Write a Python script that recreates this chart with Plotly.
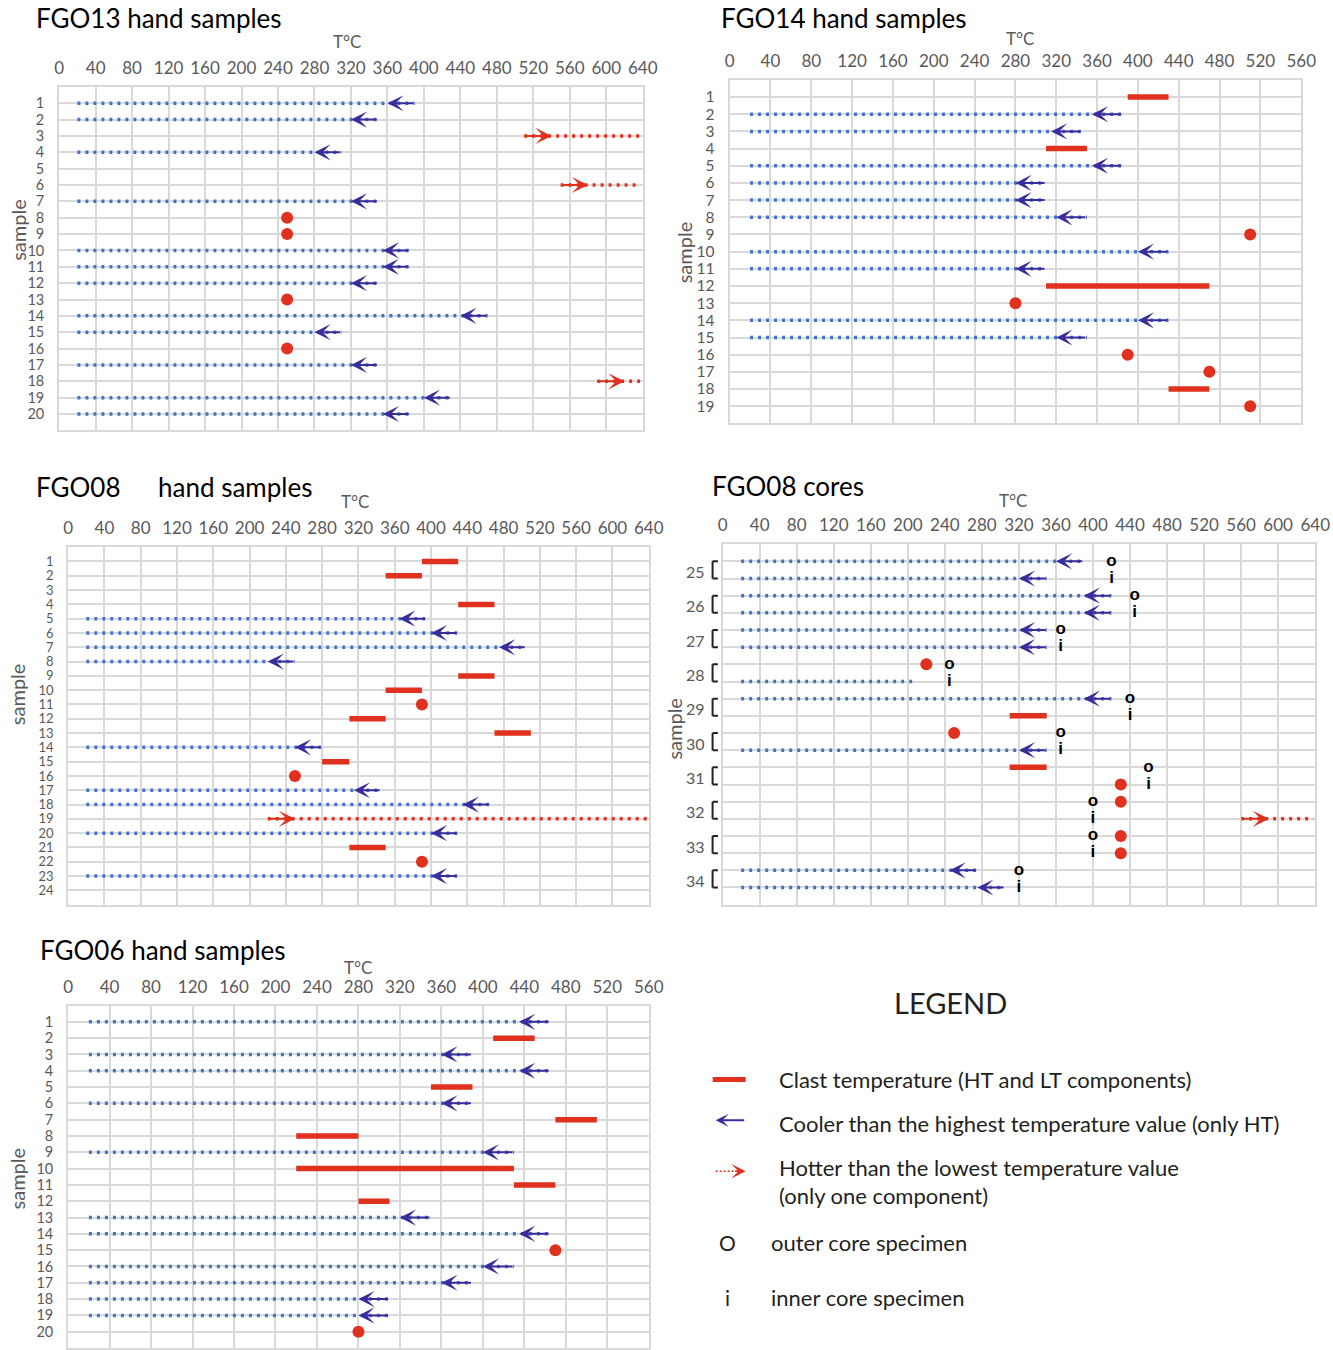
import plotly.graph_objects as go

W, H = 1333, 1350
BLUE = "#4472C4"
PURPLE = "#3B2C9B"
RED = "#E0301E"
GRID = "#D9D9D9"
TICK = "#595959"
FONT = "Lato"

COOL_START = 20      # dotted "cooler than" lines start at ~20 degC
ARROW_LEN = 30       # arrow length in degC

# ---------------- FGO13 hand samples ----------------
f13_rows = list(range(1, 21))
f13_cool_rows = [1, 2, 4, 7, 10, 11, 12, 14, 15, 17, 19, 20]
f13_cool_max = [390, 350, 310, 350, 385, 385, 350, 470, 310, 350, 430, 385]
f13_hot_rows = [3, 6, 18]
f13_hot_min = [510, 550, 590]
f13_hot_max = [640, 635, 637]
f13_dot_rows = [8, 9, 13, 16]
f13_dot_val = [250, 250, 250, 250]

# ---------------- FGO14 hand samples ----------------
f14_rows = list(range(1, 20))
f14_cool_rows = [2, 3, 5, 6, 7, 8, 10, 11, 14, 15]
f14_cool_max = [385, 345, 385, 310, 310, 350, 430, 310, 430, 350]
f14_bar_rows = [1, 4, 12, 18]
f14_bar_lo = [390, 310, 310, 430]
f14_bar_hi = [430, 350, 470, 470]
f14_dot_rows = [9, 13, 16, 17, 19]
f14_dot_val = [510, 280, 390, 470, 510]

# ---------------- FGO08 hand samples ----------------
f08_rows = list(range(1, 25))
f08_cool_rows = [5, 6, 7, 8, 14, 17, 18, 20, 23]
f08_cool_max = [395, 430, 505, 250, 280, 345, 465, 430, 430]
f08_bar_rows = [1, 2, 4, 9, 10, 12, 13, 15, 21]
f08_bar_lo = [390, 350, 430, 430, 350, 310, 470, 280, 310]
f08_bar_hi = [430, 390, 470, 470, 390, 350, 510, 310, 350]
f08_dot_rows = [11, 16, 22]
f08_dot_val = [390, 250, 390]
f08_hot_rows = [19]
f08_hot_min = [220]
f08_hot_max = [640]

# ---------------- FGO08 cores (o = outer, i = inner sub-rows) ----------------
core_samples = ["25", "26", "27", "28", "29", "30", "31", "32", "33", "34"]
core_rows = list(range(1, 21))
core_cool_rows = [1, 2, 3, 4, 5, 6, 9, 12, 19, 20]
core_cool_max = [390, 350, 420, 420, 350, 350, 420, 350, 275, 305]
core_plain_rows = [8]
core_plain_max = [210]
core_bar_rows = [10, 13]
core_bar_lo = [310, 310]
core_bar_hi = [350, 350]
core_dot_rows = [7, 11, 14, 15, 17, 18]
core_dot_val = [220, 250, 430, 430, 430, 430]
core_hot_rows = [16]
core_hot_min = [560]
core_hot_max = [638]
core_o_rows = [1, 3, 5, 7, 9, 11, 13, 15, 17, 19]
core_i_rows = [2, 4, 6, 8, 10, 12, 14, 16, 18, 20]
core_label_x = [420, 445, 365, 245, 440, 365, 460, 400, 400, 320]

# ---------------- FGO06 hand samples ----------------
f06_rows = list(range(1, 21))
f06_cool_rows = [1, 3, 4, 6, 9, 13, 14, 16, 17, 18, 19]
f06_cool_max = [465, 390, 465, 390, 430, 350, 465, 430, 390, 310, 310]
f06_bar_rows = [2, 5, 7, 8, 10, 11, 12]
f06_bar_lo = [410, 350, 470, 220, 220, 430, 280]
f06_bar_hi = [450, 390, 510, 280, 430, 470, 310]
f06_dot_rows = [15, 20]
f06_dot_val = [470, 280]

fig = go.Figure()

# effective horizontal rendering width / offset observed in the viewer
X_OFF, X_W = 3.8, 1314.0


def px_x(p):
    return (p - X_OFF) / X_W


def px_y(p):
    return 1 - p / H


def names(n):
    s = "" if n == 1 else str(n)
    return "x" + s, "y" + s, "xaxis" + s, "yaxis" + s


def segs(rows, lo, hi):
    xs, ys = [], []
    for r, a, b in zip(rows, lo, hi):
        xs += [a, b, None]
        ys += [r, r, None]
    return xs, ys


def add_panel(n, cool_rows=(), cool_max=(), bar_rows=(), bar_lo=(), bar_hi=(),
              dot_rows=(), dot_val=(), hot_rows=(), hot_lo=(), hot_hi=(),
              plain_rows=(), plain_max=()):
    xa, ya, _, _ = names(n)
    rows = list(cool_rows) + list(plain_rows)
    mx = list(cool_max) + list(plain_max)
    if rows:
        xs, ys = segs(rows, [COOL_START] * len(rows), mx)
        fig.add_trace(go.Scatter(x=xs, y=ys, xaxis=xa, yaxis=ya, mode="lines",
                                 line=dict(color=BLUE, width=3.5, dash="3px,5px"),
                                 hoverinfo="skip", showlegend=False))
    if hot_rows:
        xs, ys = segs(hot_rows, hot_lo, hot_hi)
        fig.add_trace(go.Scatter(x=xs, y=ys, xaxis=xa, yaxis=ya, mode="lines",
                                 line=dict(color=RED, width=3.5, dash="3px,5px"),
                                 hoverinfo="skip", showlegend=False))
        for r, a in zip(hot_rows, hot_lo):
            fig.add_annotation(x=a + ARROW_LEN, y=r, ax=a, ay=r, xref=xa, yref=ya,
                               axref=xa, ayref=ya, showarrow=True, arrowhead=3,
                               arrowsize=1.35, arrowwidth=2, arrowcolor=RED, text="",
                               standoff=0)
    if bar_rows:
        xs, ys = segs(bar_rows, bar_lo, bar_hi)
        fig.add_trace(go.Scatter(x=xs, y=ys, xaxis=xa, yaxis=ya, mode="lines",
                                 line=dict(color=RED, width=5.5),
                                 hoverinfo="skip", showlegend=False))
    if dot_rows:
        fig.add_trace(go.Scatter(x=dot_val, y=dot_rows, xaxis=xa, yaxis=ya, mode="markers",
                                 marker=dict(color=RED, size=12),
                                 hoverinfo="skip", showlegend=False))
    for r, m in zip(cool_rows, cool_max):
        fig.add_annotation(x=m - ARROW_LEN, y=r, ax=m, ay=r, xref=xa, yref=ya,
                           axref=xa, ayref=ya, showarrow=True, arrowhead=3,
                           arrowsize=1.35, arrowwidth=2, arrowcolor=PURPLE, text="",
                           standoff=0)


def set_axes(n, xmax, ymax, dom_x, dom_y, ytickvals, yticktext, ysize=16):
    _, _, xk, yk = names(n)
    xa, ya, _, _ = names(n)
    fig.layout[xk] = dict(domain=[px_x(dom_x[0]), px_x(dom_x[1])], range=[0, xmax],
                          side="top", anchor=ya, tickvals=list(range(0, xmax + 1, 40)),
                          showgrid=True, gridcolor=GRID, gridwidth=2, zeroline=False,
                          showline=True, linecolor=GRID, linewidth=2, mirror=True,
                          ticks="", ticklabelstandoff=4,
                          tickfont=dict(family=FONT, size=17, color=TICK))
    fig.layout[yk] = dict(domain=[px_y(dom_y[1]), px_y(dom_y[0])], range=[ymax, 0],
                          anchor=xa, tickvals=ytickvals, ticktext=yticktext,
                          showgrid=True, gridcolor=GRID, gridwidth=2, zeroline=False,
                          showline=True, linecolor=GRID, linewidth=2, mirror=True,
                          ticks="", ticklabelstandoff=10,
                          tickfont=dict(family=FONT, size=ysize, color=TICK))


# Panel 1: FGO13
add_panel(1, f13_cool_rows, f13_cool_max, dot_rows=f13_dot_rows, dot_val=f13_dot_val,
          hot_rows=f13_hot_rows, hot_lo=f13_hot_min, hot_hi=f13_hot_max)
set_axes(1, 640, 21, (58, 642), (87, 431), f13_rows, [str(r) for r in f13_rows], ysize=14.5)

# Panel 2: FGO14
add_panel(2, f14_cool_rows, f14_cool_max, f14_bar_rows, f14_bar_lo, f14_bar_hi,
          f14_dot_rows, f14_dot_val)
set_axes(2, 560, 20, (729, 1301), (80, 424), f14_rows, [str(r) for r in f14_rows], ysize=15.5)

# Panel 3: FGO08 hand samples
add_panel(3, f08_cool_rows, f08_cool_max, f08_bar_rows, f08_bar_lo, f08_bar_hi,
          f08_dot_rows, f08_dot_val, f08_hot_rows, f08_hot_min, f08_hot_max)
set_axes(3, 640, 25, (67, 648), (548, 906), f08_rows, [str(r) for r in f08_rows], ysize=13)

# Panel 4: FGO08 cores
add_panel(4, core_cool_rows, core_cool_max, core_bar_rows, core_bar_lo, core_bar_hi,
          core_dot_rows, core_dot_val, core_hot_rows, core_hot_min, core_hot_max,
          core_plain_rows, core_plain_max)
set_axes(4, 640, 21, (722, 1315), (545, 906), core_rows, ["" for _ in core_rows])
fig.add_trace(go.Scatter(x=core_label_x, y=core_o_rows, xaxis="x4", yaxis="y4", mode="text",
                         text=["<b>o</b>"] * len(core_o_rows), textposition="middle center",
                         textfont=dict(family="Arial", size=17, color="black"),
                         hoverinfo="skip", showlegend=False))
fig.add_trace(go.Scatter(x=core_label_x, y=core_i_rows, xaxis="x4", yaxis="y4", mode="text",
                         text=["<b>i</b>"] * len(core_i_rows), textposition="middle center",
                         textfont=dict(family="Arial", size=17, color="black"),
                         hoverinfo="skip", showlegend=False))
for lab, ro, ri in zip(core_samples, core_o_rows, core_i_rows):
    fig.add_annotation(x=-0.026, y=(ro + ri) / 2 + 0.1, xref="x4 domain", yref="y4",
                       text=lab, showarrow=False, xanchor="right", yanchor="middle",
                       font=dict(family=FONT, size=16, color=TICK))
    for (x0, y0, x1, y1) in [(-0.017, ro, -0.017, ri), (-0.017, ro, -0.008, ro),
                             (-0.017, ri, -0.008, ri)]:
        fig.add_shape(type="line", xref="x4 domain", yref="y4", x0=x0, y0=y0, x1=x1, y1=y1,
                      line=dict(color="#231F20", width=2))

# Panel 5: FGO06
add_panel(5, f06_cool_rows, f06_cool_max, f06_bar_rows, f06_bar_lo, f06_bar_hi,
          f06_dot_rows, f06_dot_val)
set_axes(5, 560, 21, (67, 648), (1007, 1350), f06_rows, [str(r) for r in f06_rows], ysize=14.5)


# ---------------- titles & axis labels ----------------
def txt(x, y, s, size, color="black", xanchor="left", angle=0, family=FONT):
    fig.add_annotation(x=px_x(x), y=px_y(y), xref="paper", yref="paper", text=s,
                       showarrow=False, xanchor=xanchor, yanchor="middle", textangle=angle,
                       font=dict(family=family, size=size, color=color))


txt(33, 18, "FGO13 hand samples", 26)
txt(718, 18, "FGO14 hand samples", 26)
txt(33, 488, "FGO08", 26)
txt(155, 488, "hand samples", 26)
txt(709, 487, "FGO08 cores", 26)
txt(37, 951, "FGO06 hand samples", 26)

for (x, y) in [(346, 42), (1020, 39), (354, 502), (1013, 501), (357, 969)]:
    txt(x, y, "T°C", 17, TICK, "center")
for (x, y) in [(16, 230), (683, 253), (16, 695), (673, 730), (16, 1180)]:
    txt(x, y, "sample", 20, TICK, "center", -90)

# ---------------- legend ----------------
LEG = "#231F20"
txt(950, 1004, "LEGEND", 29, LEG, "center")
fig.add_shape(type="line", xref="paper", yref="paper", x0=px_x(712), x1=px_x(745),
              y0=px_y(1081), y1=px_y(1081), line=dict(color=RED, width=5))
txt(776, 1081, "Clast temperature (HT and LT components)", 22, LEG)
fig.add_annotation(x=px_x(715), y=px_y(1122), xref="paper", yref="paper", ax=30, ay=0,
                   showarrow=True, arrowhead=3, arrowsize=1.1, arrowwidth=2,
                   arrowcolor=PURPLE, text="", standoff=0)
txt(776, 1125, "Cooler than the highest temperature value (only HT)", 22, LEG)
fig.add_shape(type="line", xref="paper", yref="paper", x0=px_x(715), x1=px_x(740),
              y0=px_y(1173), y1=px_y(1173), line=dict(color=RED, width=1.5, dash="2px,2px"))
fig.add_annotation(x=px_x(745), y=px_y(1173), xref="paper", yref="paper", ax=-12, ay=0,
                   showarrow=True, arrowhead=3, arrowsize=1.6, arrowwidth=1.5,
                   arrowcolor=RED, text="", standoff=0)
txt(776, 1169, "Hotter than the lowest temperature value", 22, LEG)
txt(776, 1197, "(only one component)", 22, LEG)
txt(727, 1244, "O", 21, LEG, "center")
txt(768, 1244, "outer core specimen", 22, LEG)
txt(727, 1299, "i", 21, LEG, "center")
txt(768, 1299, "inner core specimen", 22, LEG)

fig.update_layout(width=W, height=H, autosize=False, margin=dict(l=0, r=0, t=0, b=0),
                  paper_bgcolor="white", plot_bgcolor="white", showlegend=False,
                  font=dict(family=FONT))

fig.write_html("out.html", config={"responsive": False, "displayModeBar": False},
               post_script="document.body.style.margin='0px';"
                           "document.body.style.overflow='hidden';"
                           "document.documentElement.style.overflow='hidden';")
